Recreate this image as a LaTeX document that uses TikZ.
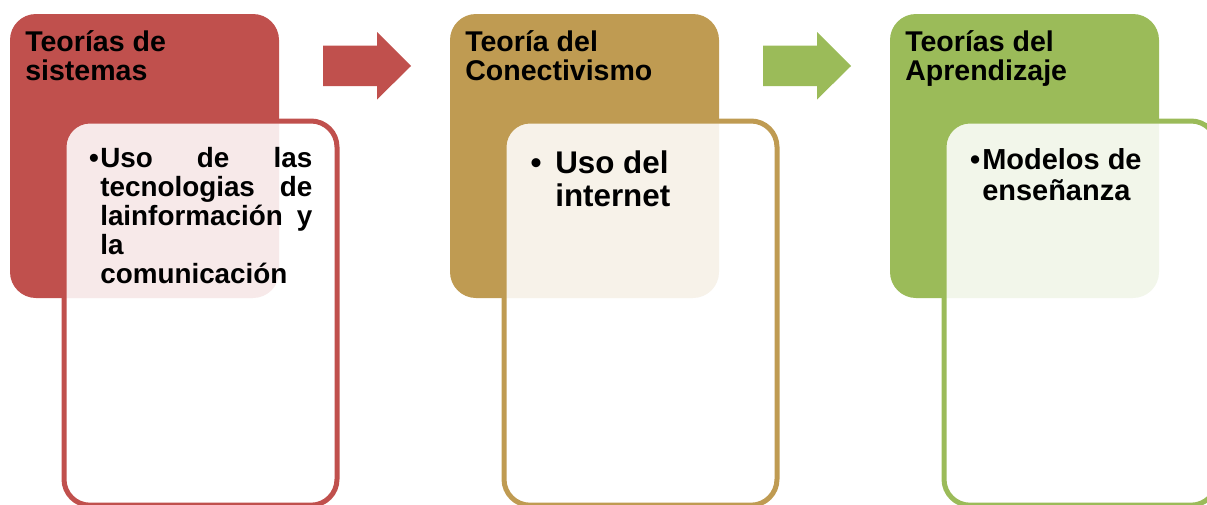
\documentclass[tikz,border=0pt]{standalone}
\usepackage{fontspec}
\setmainfont{Liberation Sans}
\definecolor{teored}{HTML}{C0504D}
\definecolor{teogold}{HTML}{BF9B52}
\definecolor{teogreen}{HTML}{9BBB59}
\hyphenpenalty=10000
\newcommand{\fillline}[1]{\makebox[5.3cm][s]{#1}}

\tikzset{
  titlebox/.style={rounded corners=0.65cm},
  itembox/.style={rounded corners=0.65cm, line width=0.125cm, fill=white, fill opacity=0.88},
  titletext/.style={anchor=base west, inner sep=0pt, align=left, font=\fontsize{20.3}{20.1}\selectfont\bfseries},
  itemtext/.style={anchor=base west, inner sep=0pt, align=left}
}

\begin{document}
\begin{tikzpicture}
      \clip (0,0) rectangle (30.175,12.6);
      % sistemas
      \fill[teored, titlebox] (0.25,5.15) rectangle (6.975,12.25);
      \node[titletext] (sistemas) at (0.625,10.6) {Teorías de\\sistemas};
      \draw[draw=teored, itembox] (1.6,-0.03) rectangle (8.425,9.575);
      \node[itemtext, font=\fontsize{19.8}{20.6}\selectfont\bfseries] (tic) at (2.5,5.525)
        {\llap{•\kern1pt}\fillline{Uso de las}\\\fillline{tecnologias de}\\\fillline{lainformación y}\\la\\comunicación};
      \fill[teored] (8.075,10.45) -- (9.425,10.45) -- (9.425,10.1125) -- (10.275,10.95)
        -- (9.425,11.8) -- (9.425,11.4625) -- (8.075,11.4625) -- cycle;
      % conectivismo
      \fill[teogold, titlebox] (11.25,5.15) rectangle (17.975,12.25);
      \node[titletext] (conectivismo) at (11.625,10.6) {Teoría del\\Conectivismo};
      \draw[draw=teogold, itembox] (12.6,-0.03) rectangle (19.425,9.575);
      \node[itemtext, font=\fontsize{22.3}{23.7}\selectfont\bfseries] (internet) at (13.875,7.433)
        {\llap{•\hspace{0.345cm}}Uso del\\internet};
      \fill[teogreen] (19.075,10.45) -- (20.425,10.45) -- (20.425,10.1125) -- (21.275,10.95)
        -- (20.425,11.8) -- (20.425,11.4625) -- (19.075,11.4625) -- cycle;
      % aprendizaje
      \fill[teogreen, titlebox] (22.25,5.15) rectangle (28.975,12.25);
      \node[titletext] (aprendizaje) at (22.625,10.6) {Teorías del\\Aprendizaje};
      \draw[draw=teogreen, itembox] (23.6,-0.03) rectangle (30.425,9.575);
      \node[itemtext, font=\fontsize{20.6}{21.8}\selectfont\bfseries] (ensenanza) at (24.55,7.6)
        {\llap{•\kern0.05cm}Modelos de\\enseñanza};
\end{tikzpicture}
\end{document}
